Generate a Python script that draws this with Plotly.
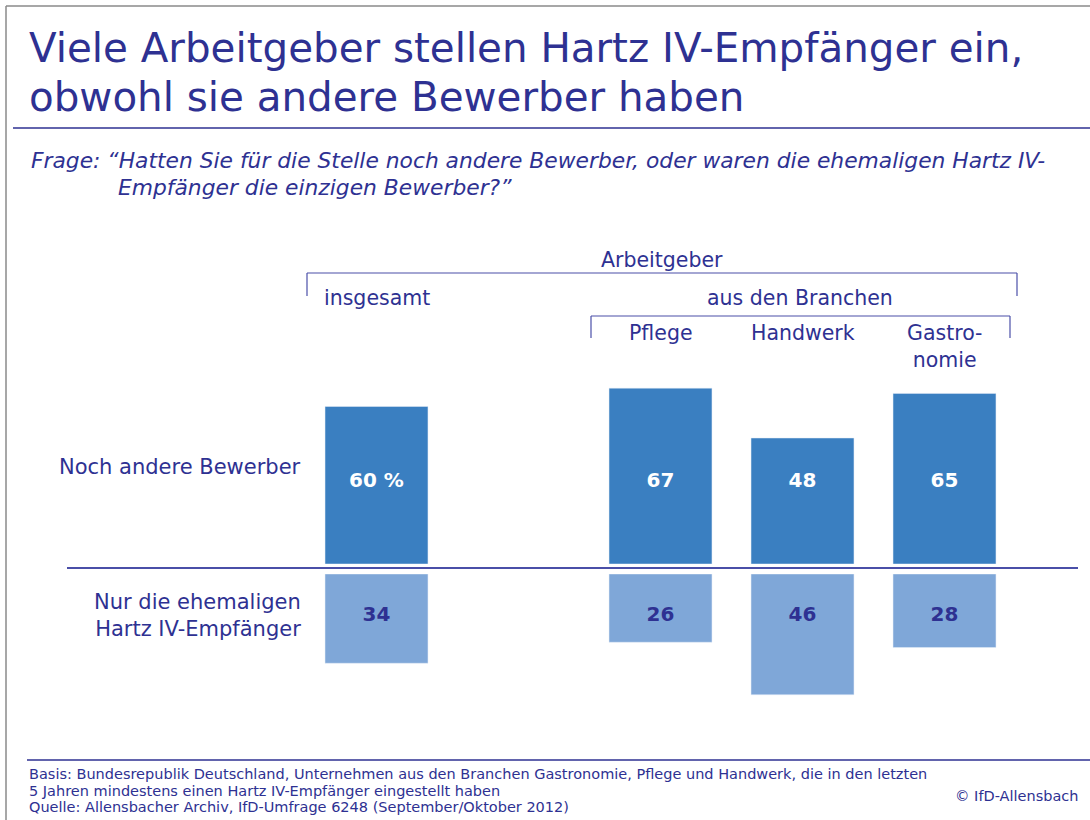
import plotly.graph_objects as go

# ---- data ----
groups = ["insgesamt", "Pflege", "Handwerk", "Gastronomie"]
group_labels = ["insgesamt", "Pflege", "Handwerk", "Gastro-<br>nomie"]
noch_andere = [60, 67, 48, 65]
nur_hartz = [34, 26, 46, 28]
row_labels = ["Noch andere Bewerber", "Nur die ehemaligen<br>Hartz IV-Empfänger"]

W, H = 1090, 820
FONT = "DejaVu Sans"
TXT = "#2e3192"
DARK = "#3a7fc1"
LIGHT = "#7fa7d8"
SCALE = 2.625  # px per percentage point

SPACER = " "
cats = [groups[0], SPACER] + groups[1:]

def px(x):
    return x / W

def py(y):
    return 1 - y / H

fig = go.Figure()
fig.add_bar(x=groups, y=noch_andere, marker_color=DARK, width=0.725,
            xaxis="x", yaxis="y", hoverinfo="skip")
fig.add_bar(x=groups, y=nur_hartz, marker_color=LIGHT, width=0.725,
            xaxis="x", yaxis="y2", hoverinfo="skip")

up_txt = [f"{v} %" if i == 0 else str(v) for i, v in enumerate(noch_andere)]
fig.add_scatter(x=groups, y=[(564 - 482) / SCALE] * len(groups), mode="text",
                text=up_txt, textposition="middle center",
                textfont=dict(family=FONT, size=20, color="white", weight="bold"),
                yaxis="y", hoverinfo="skip")
fig.add_scatter(x=groups, y=[(616 - 574) / SCALE] * len(groups), mode="text",
                text=[str(v) for v in nur_hartz], textposition="middle center",
                textfont=dict(family=FONT, size=20, color=TXT, weight="bold"),
                yaxis="y2", hoverinfo="skip")

x0 = -376.5 / 142
fig.update_layout(
    width=W, height=H, margin=dict(l=0, r=0, t=0, b=0),
    paper_bgcolor="white", plot_bgcolor="white", showlegend=False,
    xaxis=dict(type="category", categoryorder="array", categoryarray=cats,
               range=[x0, x0 + W / 142], visible=False, domain=[0, 1]),
    yaxis=dict(domain=[py(564), 1], range=[0, 564 / SCALE], visible=False),
    yaxis2=dict(domain=[0, py(574)], range=[(H - 574) / SCALE, 0], visible=False),
)

shapes = []
def line(x1, y1, x2, y2, color=TXT, w=1.5):
    shapes.append(dict(type="line", xref="paper", yref="paper",
                       x0=px(x1), y0=py(y1), x1=px(x2), y1=py(y2),
                       line=dict(color=color, width=w)))

# frame
line(6, 6, W, 6, color="#8a8a8a", w=1.5)
line(6, 6, 6, H, color="#8a8a8a", w=1.5)
# rules
line(13, 128, W, 128, w=1.5)
line(67, 568, 1078, 568, color="#4a4fa8", w=2)
line(27, 760, W, 760, w=1.5)
# brackets
line(307, 273, 1017, 273, color="#4a4fa8", w=1.2)
line(307, 273, 307, 296, color="#4a4fa8", w=1.2)
line(1017, 273, 1017, 296, color="#4a4fa8", w=1.2)
line(591, 316, 1010, 316, color="#4a4fa8", w=1.2)
line(591, 316, 591, 338, color="#4a4fa8", w=1.2)
line(1010, 316, 1010, 338, color="#4a4fa8", w=1.2)
fig.update_layout(shapes=shapes)

ann = []
def text(t, x, y, size, xanchor="left", yanchor="middle", italic=False, align="left", color=TXT):
    ann.append(dict(text=t, x=px(x), y=py(y), xref="paper", yref="paper",
                    xanchor=xanchor, yanchor=yanchor, showarrow=False, align=align,
                    font=dict(family=FONT, size=size, color=color,
                              style="italic" if italic else "normal")))

text("Viele Arbeitgeber stellen Hartz IV-Empfänger ein,", 27, 48, 40.4)
text("obwohl sie andere Bewerber haben", 27, 97, 40.4)
text("Frage: “Hatten Sie für die Stelle noch andere Bewerber, oder waren die ehemaligen Hartz IV-",
     29, 161, 21.8, italic=True)
text("Empfänger die einzigen Bewerber?”", 116, 188, 21.8, italic=True)

text("Arbeitgeber", 662, 260, 20.5, xanchor="center")
text("aus den Branchen", 800, 298, 20.5, xanchor="center")
text(row_labels[0], 303, 467, 21, xanchor="right", align="right")
text(row_labels[1], 303, 615, 21, xanchor="right", align="right")

# group headers on the category axis
for g, lab in zip(groups, group_labels):
    if g == groups[0]:
        ann.append(dict(text=lab, x=px(322), y=py(298), xref="paper", yref="paper",
                        xanchor="left", yanchor="middle", showarrow=False,
                        font=dict(family=FONT, size=20.5, color=TXT)))
    else:
        ann.append(dict(text=lab, x=g, y=py(319), xref="x", yref="paper",
                        xanchor="center", yanchor="top", showarrow=False, align="center",
                        font=dict(family=FONT, size=20.5, color=TXT)))

text("Basis: Bundesrepublik Deutschland, Unternehmen aus den Branchen Gastronomie, Pflege und Handwerk, die in den letzten",
     27, 774, 14.5)
text("5 Jahren mindestens einen Hartz IV-Empfänger eingestellt haben", 27, 791, 14.5)
text("Quelle: Allensbacher Archiv, IfD-Umfrage 6248 (September/Oktober 2012)", 27, 807, 14.5)
text("© IfD-Allensbach", 1080, 796, 14.5, xanchor="right")

fig.update_layout(annotations=ann)
fig.write_html("out.html", config={"displayModeBar": False},
               post_script="document.body.style.margin='0';document.body.style.overflow='hidden';")
